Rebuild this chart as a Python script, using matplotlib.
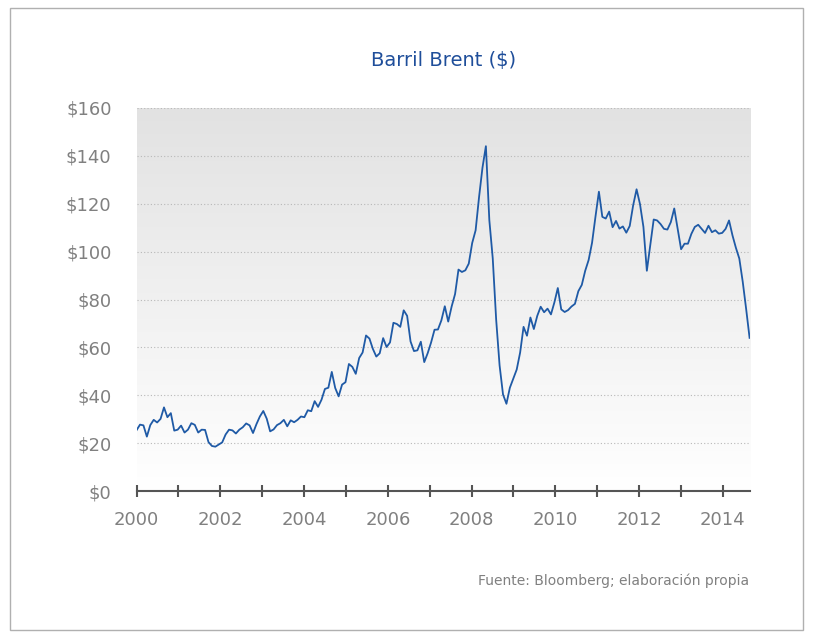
import numpy as np
import matplotlib.pyplot as plt
from matplotlib.patches import Rectangle
from matplotlib.colors import LinearSegmentedColormap

# Brent monthly prices (USD), Jan 2000 - Dec 2014
p2000 = [25.5, 27.8, 27.5, 22.8, 27.6, 29.8, 28.7, 30.2, 35.0, 30.9, 32.6, 25.3]
p2001 = [25.7, 27.4, 24.5, 25.7, 28.4, 27.7, 24.5, 25.7, 25.6, 20.5, 18.9, 18.6]
p2002 = [19.5, 20.4, 23.7, 25.7, 25.4, 24.1, 25.7, 26.7, 28.3, 27.5, 24.3, 28.0]
p2003 = [31.2, 33.5, 30.3, 25.0, 25.8, 27.6, 28.4, 29.8, 27.1, 29.6, 28.8, 29.8]
p2004 = [31.2, 30.9, 33.8, 33.4, 37.6, 35.2, 38.2, 42.7, 43.2, 49.8, 43.1, 39.6]
p2005 = [44.5, 45.5, 53.1, 51.9, 49.0, 55.6, 57.9, 65.0, 63.7, 59.4, 56.2, 57.6]
p2006 = [63.9, 60.2, 62.1, 70.3, 69.8, 68.6, 75.5, 73.2, 62.5, 58.5, 58.8, 62.4]
p2007 = [53.9, 57.6, 62.1, 67.4, 67.5, 71.3, 77.2, 70.8, 77.1, 82.3, 92.5, 91.5]
p2008 = [92.2, 95.0, 103.6, 108.9, 122.7, 135.0, 144.0, 113.2, 97.2, 71.6, 52.5, 40.4]
p2009 = [36.5, 43.2, 47.0, 50.8, 57.9, 68.6, 64.9, 72.5, 67.7, 73.2, 77.0, 74.7]
p2010 = [76.2, 73.8, 78.8, 84.8, 75.9, 74.8, 75.6, 77.1, 78.2, 83.5, 86.1, 92.0]
p2011 = [96.5, 103.7, 114.6, 125.0, 114.5, 113.8, 116.7, 110.2, 112.8, 109.6, 110.5, 107.9]
p2012 = [110.7, 119.3, 126.0, 119.8, 110.3, 92.0, 102.6, 113.4, 113.0, 111.5, 109.5, 109.2]
p2013 = [112.3, 118.0, 109.5, 101.0, 103.3, 103.3, 107.4, 110.3, 111.2, 109.5, 107.8, 110.8]
p2014 = [108.1, 108.9, 107.5, 107.8, 109.5, 113.0, 106.8, 101.6, 97.1, 87.4, 76.0, 64.0]

prices = (p2000 + p2001 + p2002 + p2003 + p2004 + p2005 + p2006 + p2007
          + p2008 + p2009 + p2010 + p2011 + p2012 + p2013 + p2014)
x_start, x_end = 2000, 2014.64
years = [2000, 2002, 2004, 2006, 2008, 2010, 2012, 2014]
yticks = [0, 20, 40, 60, 80, 100, 120, 140, 160]

blue = "#1f5aa6"
gray = "#808080"

fig = plt.figure(figsize=(8.13, 6.38), dpi=100)
fig.patches.append(Rectangle((0.012, 0.012), 0.976, 0.976, transform=fig.transFigure,
                             fill=False, edgecolor="#b0b0b0", lw=1))
ax = fig.add_axes([0.168, 0.230, 0.754, 0.601])

# vertical gradient background: white at bottom, light gray at top
bg = LinearSegmentedColormap.from_list("bg", ["#ffffff", "#e2e2e2"])
grad = np.linspace(0, 1, 256).reshape(-1, 1)
ax.imshow(grad, extent=[x_start, x_end, 0, 160], aspect="auto", cmap=bg,
          origin="lower", zorder=0)
x = np.linspace(x_start, x_end, len(prices))
ax.plot(x, prices, color=blue, lw=1.3, zorder=3)

ax.set_xlim(x_start, x_end)
ax.set_ylim(0, 160)
ax.set_yticks(yticks)
ax.set_yticklabels([f"${v}" for v in yticks])
ax.set_xticks(years)
ax.set_xticks(range(2001, 2015, 2), minor=True)
ax.grid(axis="y", color="#b8b8b8", ls=(0, (1, 2)), lw=0.8)
for s in ["top", "right", "left"]:
    ax.spines[s].set_visible(False)
ax.spines["bottom"].set_color("#555555")
ax.spines["bottom"].set_linewidth(1.5)
ax.tick_params(axis="y", length=0, labelsize=13, labelcolor=gray, pad=18)
ax.tick_params(axis="x", which="major", length=8, width=1.5, color="#555555",
               labelsize=13, labelcolor=gray, pad=10, direction="inout")
ax.tick_params(axis="x", which="minor", length=8, width=1.5, color="#555555",
               direction="inout")

fig.text(0.545, 0.905, "Barril Brent ($)", ha="center", va="center",
         fontsize=14, color="#1f4e9a")
fig.text(0.922, 0.09, "Fuente: Bloomberg; elaboración propia", ha="right",
         va="center", fontsize=10, color=gray)

fig.savefig("out.png", dpi=100)
